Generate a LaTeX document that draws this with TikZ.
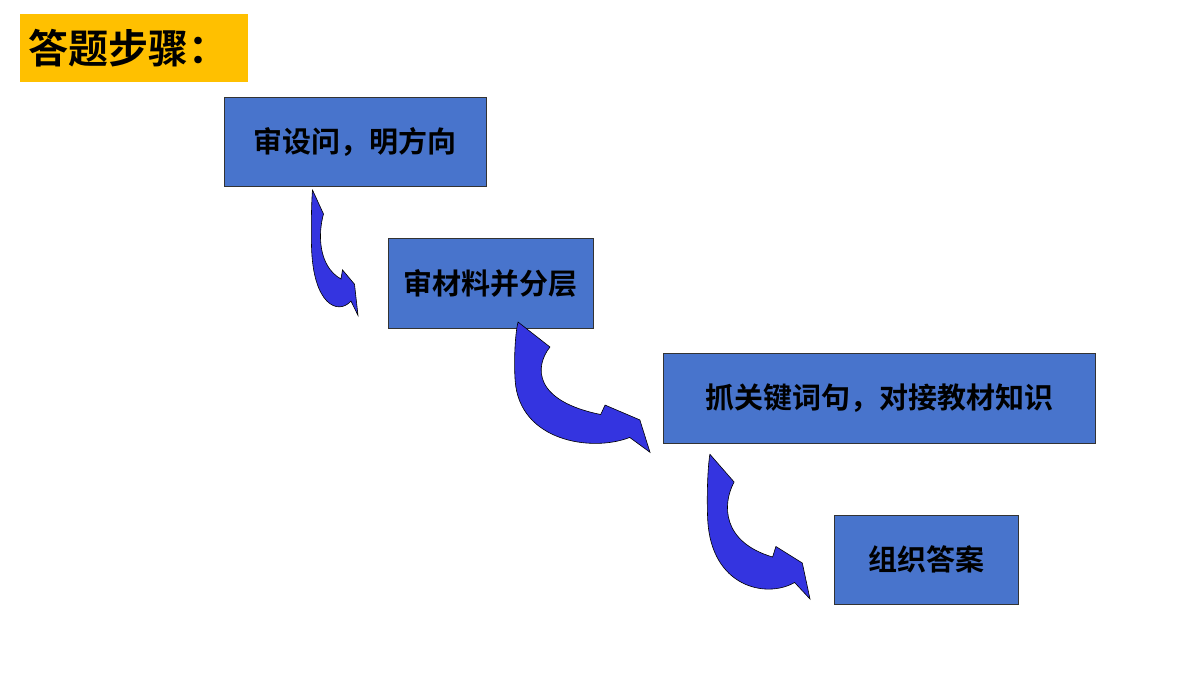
\documentclass[tikz,border=0pt]{standalone}
\usepackage{fontspec}
\newfontfamily\cjk{Noto Sans CJK SC Bold}
\definecolor{boxblue}{RGB}{72,116,204}
\definecolor{arrowblue}{RGB}{52,52,224}
\definecolor{titleyellow}{RGB}{255,192,0}
\tikzset{
  stepbox/.style={draw=black!80, fill=boxblue, font=\cjk\fontsize{29}{32}\selectfont, inner sep=0pt},
  curlarrow/.pic={
    \fill[arrowblue, draw=black, line width=0.6pt]
      (0.09,0.015) -- (0.31,0.2)
      .. controls (0.2,0.35) and (0.2,0.6) .. (0.66,0.7)
      -- (0.69,0.63) -- (0.93,0.74) -- (1,0.98) -- (0.86,0.87)
      .. controls (0.6,0.98) and (0.1,0.9) .. (0.07,0.45)
      .. controls (0.06,0.3) and (0.07,0.1) .. cycle;
  }
}
\begin{document}
\begin{tikzpicture}[x=1pt, y=-1pt]
  \useasboundingbox (0,0) rectangle (1200,675);
  \fill[titleyellow] (20,14) rectangle (248,82);
  \node[anchor=west, font=\cjk\fontsize{40}{44}\selectfont, inner sep=0pt] (title) at (28,48) {答题步骤：};
  \node[stepbox, minimum width=262pt, minimum height=89pt] (s1) at (355,141.5) {审设问，明方向};
  \node[stepbox, minimum width=205pt, minimum height=90pt] (s2) at (490.5,283) {审材料并分层};
  \node[stepbox, minimum width=432pt, minimum height=90pt] (s3) at (879,398) {抓关键词句，对接教材知识};
  \node[stepbox, minimum width=184pt, minimum height=89pt] (s4) at (926,559.5) {组织答案};
  % curved arrows between the steps
  \pic[xshift=308pt, yshift=-188pt, xscale=50, yscale=130] (a1) {curlarrow};
  \pic[xshift=505pt, yshift=-320pt, xscale=145, yscale=135] (a2) {curlarrow};
  \pic[xshift=700pt, yshift=-452pt, xscale=110, yscale=150] (a3) {curlarrow};
\end{tikzpicture}
\end{document}
